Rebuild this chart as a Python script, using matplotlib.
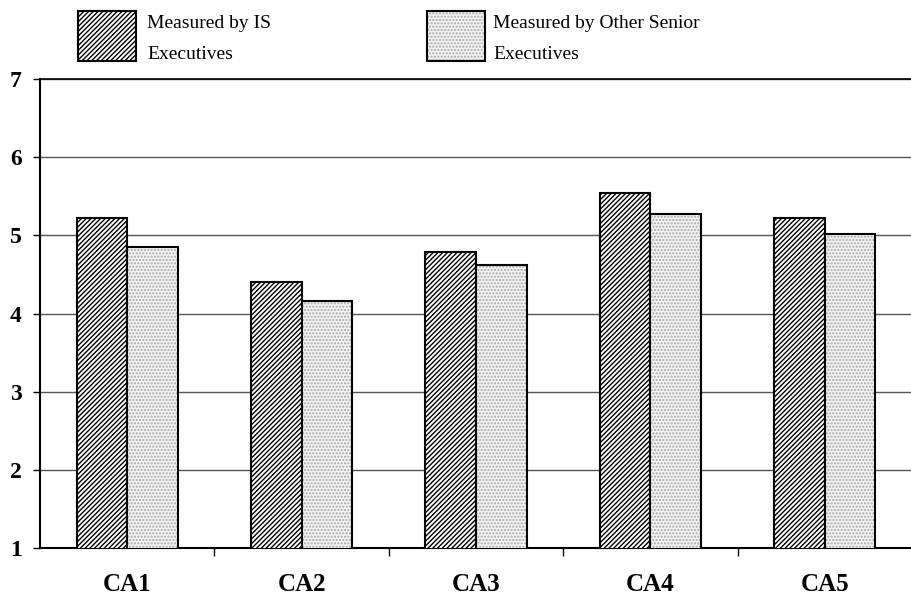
import matplotlib.pyplot as plt
import numpy as np
from matplotlib.patches import Rectangle

categories = ['CA1', 'CA2', 'CA3', 'CA4', 'CA5']
is_execs = [5.22, 4.40, 4.79, 5.54, 5.22]
other_execs = [4.85, 4.16, 4.62, 5.27, 5.02]
labels = ['Measured by IS\nExecutives', 'Measured by Other Senior\nExecutives']

plt.rcParams['font.family'] = ['Liberation Serif', 'DejaVu Serif']
plt.rcParams['hatch.linewidth'] = 1.0

fig = plt.figure(figsize=(9.12, 5.96), dpi=100)
ax = fig.add_axes([0.0439, 0.0805, 0.9561, 0.7869])

x = np.arange(len(categories))
w = 0.29
ax.bar(x - w / 2, is_execs, w, facecolor='white', edgecolor='black',
       hatch='///////', linewidth=1.5, zorder=3)
# stipple fill drawn in grey, then a black outline on top
ax.bar(x + w / 2, other_execs, w, facecolor='#f2f2f2', edgecolor='#a8a8a8',
       hatch='.....', linewidth=0, zorder=3)
ax.bar(x + w / 2, other_execs, w, fill=False, edgecolor='black', linewidth=1.5, zorder=4)

ax.set_ylim(1, 7)
ax.set_xlim(-0.5, len(categories) - 0.5)
ax.set_yticks(range(1, 8))
ax.yaxis.grid(True, color='#555555', linewidth=1.0, zorder=0)
ax.set_axisbelow(True)
ax.spines['right'].set_visible(False)
ax.spines['top'].set_linewidth(1.2)
ax.spines['left'].set_linewidth(1.5)
ax.spines['bottom'].set_linewidth(1.5)

ax.set_xticks(np.arange(len(categories) - 1) + 0.5)
ax.set_xticklabels([])
ax.tick_params(axis='x', direction='out', length=6, width=1)
ax.tick_params(axis='y', direction='out', length=5, width=1, labelsize=17, pad=8)
for t in ax.get_yticklabels():
    t.set_fontweight('bold')
for i, c in enumerate(categories):
    ax.text(i, -0.077, c, transform=ax.get_xaxis_transform(), ha='center', va='center',
            fontsize=18, fontweight='bold')

# legend
fig.add_artist(Rectangle((78 / 912, 1 - 61 / 596), 58 / 912, 50 / 596, transform=fig.transFigure,
                         facecolor='white', edgecolor='black', hatch='///////', linewidth=1.5))
fig.add_artist(Rectangle((427 / 912, 1 - 61 / 596), 58 / 912, 50 / 596, transform=fig.transFigure,
                         facecolor='#f2f2f2', edgecolor='#a8a8a8', hatch='.....', linewidth=0))
fig.add_artist(Rectangle((427 / 912, 1 - 61 / 596), 58 / 912, 50 / 596, transform=fig.transFigure,
                         fill=False, edgecolor='black', linewidth=1.5))
fig.text(147 / 912, 1 - 15 / 596, labels[0], ha='left', va='top', fontsize=14, linespacing=2.05)
fig.text(493 / 912, 1 - 15 / 596, labels[1], ha='left', va='top', fontsize=14, linespacing=2.05)

fig.savefig('out.png', dpi=100)
